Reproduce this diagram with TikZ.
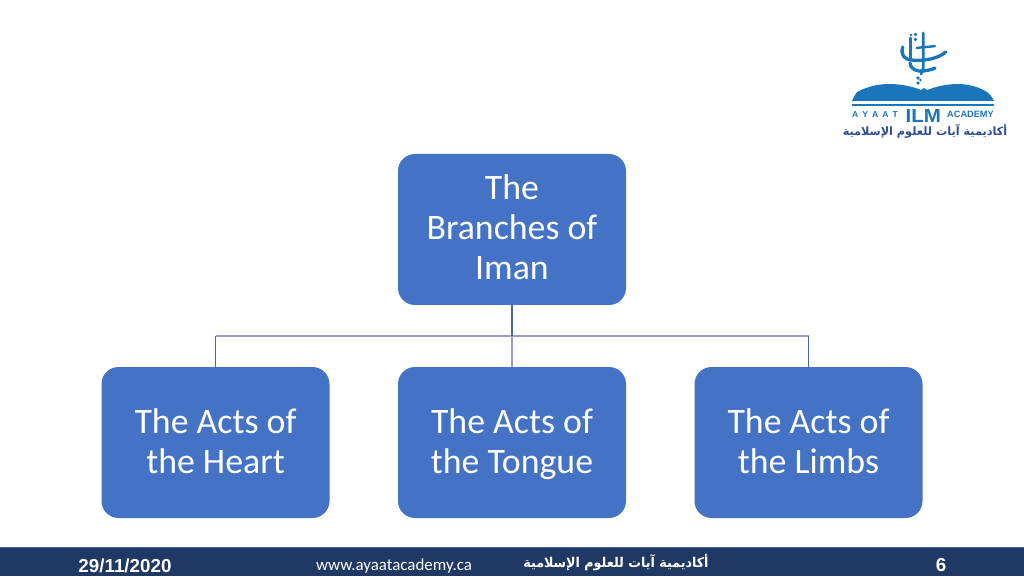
\documentclass[tikz,border=0pt]{standalone}
\usepackage{fontspec}
\setmainfont{Carlito}
\newfontfamily\arabicfont[Script=Arabic]{DejaVu Sans}
\newfontfamily\arialfont{Liberation Sans}
\TeXXeTstate=1
\definecolor{boxblue}{HTML}{4472C4}
\definecolor{barblue}{HTML}{203864}
\definecolor{logoblue}{HTML}{1B75BB}
\definecolor{lav}{HTML}{9C9CC9}
\definecolor{stem}{HTML}{46699C}
\definecolor{arlogo}{HTML}{2F4F8F}
\newcommand{\cardstrut}{\rule[-9pt]{0pt}{39pt}}
\tikzset{
  card/.style={fill=boxblue,rounded corners=17pt,minimum width=228pt,minimum height=151pt,inner sep=0pt,
    text=white,align=center,font=\fontsize{35.8}{40}\selectfont},
  foot/.style={text=white,inner sep=0pt,anchor=center},
  calli/.style={draw=logoblue,line width=3.3pt,line cap=round},
  logotxt/.style={text=logoblue,inner sep=0pt,anchor=west,font=\arialfont\bfseries}
}
\begin{document}
\begin{tikzpicture}[x=1pt,y=1pt]
\useasboundingbox (0,0) rectangle (1024,576);
\fill[white] (0,0) rectangle (1024,576);
% footer
\fill[barblue] (0,0) rectangle (1024,29);
\draw[stem,line width=0.8pt] (0,29) -- (1024,29);
\node[foot,font=\arialfont\bfseries\fontsize{18.8}{20}\selectfont] (date) at (125,10.5) {29/11/2020};
\node[foot,font=\fontsize{16.9}{20}\selectfont] (web) at (394,10.5) {www.ayaatacademy.ca};
\node[foot,font=\arabicfont\bfseries\fontsize{13.5}{16}\selectfont,xscale=0.94] (arfoot) at (616,14) {\beginR أكاديمية آيات للعلوم الإسلامية\endR};
\node[foot,font=\arialfont\bfseries\fontsize{18.8}{20}\selectfont] (pg) at (941,10.5) {6};
% boxes
\node[card] (top) at (512,346.5) {\cardstrut The\\\cardstrut Branches of\\\cardstrut Iman};
\node[card] (heart) at (215.5,133.5) {\cardstrut The Acts of\\\cardstrut the Heart};
\node[card] (tongue) at (512,133.5) {\cardstrut The Acts of\\\cardstrut the Tongue};
\node[card] (limbs) at (808.5,133.5) {\cardstrut The Acts of\\\cardstrut the Limbs};
% connectors
\coordinate (bus) at (512,240);
\draw[lav,line width=1.1pt] (heart.north |- bus) -- (limbs.north |- bus);
\draw[lav,line width=1.1pt] (bus) -- (tongue.north);
\draw[stem,line width=1.2pt] (top.south) -- (bus);
\draw[stem,line width=1.1pt] (heart.north) -- (heart.north |- bus);
\draw[stem,line width=1.1pt] (limbs.north) -- (limbs.north |- bus);
% logo: book
\fill[logoblue] (852,475) .. controls (854,479) and (855,482) .. (857,484)
  .. controls (868,490) and (880,492) .. (889,492)
  .. controls (902,492) and (914,489) .. (921,486) -- (924,488) -- (927,486)
  .. controls (935,489) and (946,492) .. (958,492)
  .. controls (968,492) and (979,489) .. (987,484)
  .. controls (990,482) and (992,479) .. (994,475) -- cycle;
\fill[logoblue] (852,472) -- (994,472) -- (994,469.5) -- (852,469.5) -- cycle;
% logo: calligraphy
\draw[calli] (902.7,529) .. controls (900.5,521) and (904,517) .. (911,516)
  .. controls (922,514.5) and (938,517) .. (945.7,524);
\draw[calli,line width=2.6pt] (910.7,538) -- (910.7,516);
\draw[calli,line width=2.8pt] (923.3,543) -- (923.3,510) .. controls (923.3,506) and (922,504) .. (921,502);
\draw[calli,line width=2.4pt] (916.7,528) .. controls (922,529) and (930,529) .. (935,530);
\draw[calli] (910,513) .. controls (911,506) and (917,504.5) .. (923,505) .. controls (928,505.5) and (932,506.5) .. (935,508);
\fill[logoblue] (915.5,541.5) circle (1.8) (915.5,536.5) circle (1.8) (911,541) circle (1.4)
  (918,498) circle (1.8) (918,493) circle (1.8) (920.5,496) circle (1.3);
% logo: text
\node[logotxt,font=\arialfont\bfseries\fontsize{8.6}{9}\selectfont] (ayaat) at (852,461.5) {A\hspace{4pt}Y\hspace{4pt}A\hspace{4pt}A\hspace{4pt}T};
\node[logotxt,font=\arialfont\bfseries\fontsize{19}{20}\selectfont,xscale=1.08] (ilm) at (905.5,460) {ILM};
\node[logotxt,font=\arialfont\bfseries\fontsize{9.2}{9}\selectfont] (acad) at (947,461.5) {ACADEMY};
\node[foot,text=arlogo,font=\arabicfont\bfseries\fontsize{11.5}{14}\selectfont,xscale=0.98] (arlogo) at (925,445) {\beginR أكاديمية آيات للعلوم الإسلامية\endR};
\end{tikzpicture}
\end{document}
